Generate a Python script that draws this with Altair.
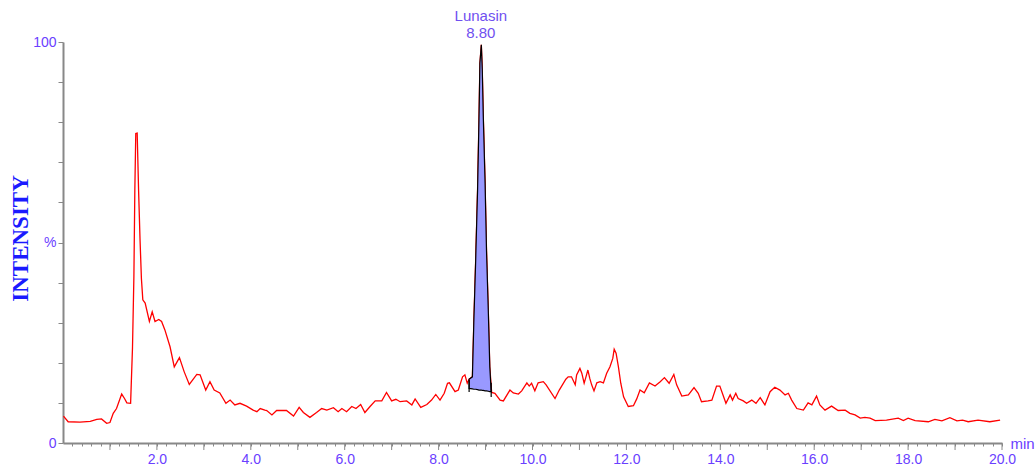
import altair as alt
import pandas as pd

# Chromatogram trace (retention time in min, relative intensity %)
time_min = [0.01, 0.11, 0.36, 0.58, 0.72, 0.82, 0.93, 1.00, 1.07, 1.14, 1.25, 1.31, 1.36, 1.44,
            1.48, 1.51, 1.53, 1.55, 1.58, 1.61, 1.64, 1.67, 1.70, 1.75, 1.84, 1.90, 1.96, 2.04,
            2.10, 2.17, 2.28, 2.37, 2.48, 2.58, 2.69, 2.85, 2.92, 3.04, 3.13, 3.22, 3.34, 3.47,
            3.56, 3.66, 3.77, 3.91, 4.05, 4.13, 4.20, 4.30, 4.34, 4.45, 4.55, 4.76, 4.91, 5.03,
            5.12, 5.26, 5.40, 5.51, 5.62, 5.76, 5.86, 5.94, 6.04, 6.15, 6.24, 6.34, 6.43, 6.54,
            6.65, 6.79, 6.89, 7.00, 7.09, 7.18, 7.32, 7.43, 7.50, 7.62, 7.75, 7.85, 7.94, 8.03,
            8.12, 8.19, 8.23, 8.35, 8.42, 8.51, 8.56, 8.61, 8.65, 8.72, 8.75, 8.79, 8.83, 8.86,
            8.88, 8.91, 8.93, 8.95, 8.99, 9.02, 9.06, 9.09, 9.13, 9.20, 9.31, 9.38, 9.52, 9.59,
            9.70, 9.77, 9.88, 9.93, 9.98, 10.05, 10.12, 10.23, 10.29, 10.48, 10.57, 10.71, 10.76,
            10.83, 10.91, 10.94, 11.01, 11.05, 11.10, 11.13, 11.18, 11.22, 11.26, 11.31, 11.37,
            11.44, 11.51, 11.58, 11.65, 11.71, 11.74, 11.78, 11.83, 11.88, 11.94, 12.04, 12.15,
            12.22, 12.29, 12.38, 12.49, 12.61, 12.72, 12.81, 12.91, 13.01, 13.07, 13.18, 13.32,
            13.44, 13.53, 13.60, 13.74, 13.82, 13.92, 13.99, 14.12, 14.21, 14.26, 14.33, 14.38,
            14.49, 14.56, 14.67, 14.76, 14.85, 14.95, 15.06, 15.16, 15.27, 15.38, 15.45, 15.52,
            15.63, 15.77, 15.87, 15.95, 16.05, 16.12, 16.23, 16.37, 16.51, 16.66, 16.76, 16.87,
            16.98, 17.08, 17.19, 17.30, 17.54, 17.79, 17.90, 18.00, 18.15, 18.43, 18.57, 18.72,
            18.89, 19.04, 19.16, 19.28, 19.49, 19.74, 19.96]
intensity = [6.7, 5.3, 5.2, 5.4, 5.9, 6.0, 4.9, 5.1, 7.4, 8.6, 12.2, 11.1, 10.0, 9.9,
             23.7, 41.5, 63.0, 77.2, 77.3, 63.0, 51.0, 41.0, 35.7, 34.9, 30.3, 32.7, 30.3, 30.8,
             30.3, 28.2, 24.0, 19.0, 21.3, 17.8, 14.6, 17.1, 17.0, 13.2, 15.3, 13.2, 12.5, 9.9,
             10.7, 9.5, 9.9, 9.2, 8.2, 7.8, 8.6, 8.2, 8.1, 7.0, 8.1, 8.1, 6.7, 8.9,
             7.6, 6.4, 7.6, 8.6, 8.2, 8.8, 7.8, 8.6, 7.8, 9.1, 8.6, 9.6, 7.6, 9.1,
             10.5, 10.5, 12.6, 10.5, 10.9, 10.3, 10.5, 9.5, 11.0, 8.9, 9.6, 10.7, 12.1, 10.7,
             12.4, 14.9, 15.0, 12.8, 13.2, 16.5, 17.0, 14.9, 15.9, 16.5, 29.9, 45.6, 63.0, 80.5,
             94.7, 99.3, 93.0, 82.2, 64.8, 48.1, 32.3, 19.0, 12.6, 12.4, 10.7, 10.5, 13.2, 12.5,
             12.2, 13.0, 15.0, 14.2, 14.9, 13.0, 15.0, 15.3, 14.5, 11.1, 13.2, 15.9, 16.5,
             16.5, 14.5, 17.0, 18.6, 17.4, 14.9, 16.1, 18.2, 16.1, 14.5, 13.0, 15.0,
             15.3, 15.0, 17.4, 19.0, 21.1, 23.4, 22.4, 19.0, 14.9, 11.5, 9.1, 9.3,
             11.0, 13.2, 12.5, 15.0, 14.2, 15.3, 16.3, 14.9, 17.1, 14.5, 11.7, 12.0,
             13.8, 12.4, 10.3, 10.5, 10.7, 14.2, 14.2, 9.9, 12.0, 10.7, 12.4, 11.1,
             10.5, 9.9, 10.7, 9.9, 11.3, 9.5, 12.8, 13.9, 13.2, 12.0, 12.4, 10.7,
             8.6, 8.2, 10.0, 9.5, 11.7, 9.5, 8.2, 9.2, 8.1, 8.2, 7.4, 7.0,
             6.2, 6.4, 6.2, 5.6, 5.7, 6.2, 5.6, 6.2, 5.6, 5.3, 5.9, 5.5,
             6.3, 5.5, 5.7, 5.3, 5.7, 5.3, 5.7]

# Integrated peak (Lunasin)
peak_time = [8.65, 8.72, 8.75, 8.79, 8.83, 8.86, 8.88, 8.91, 8.93, 8.95, 8.99, 9.02, 9.06, 9.09, 9.12]
peak_top = [15.9, 16.5, 29.9, 45.6, 63.0, 80.5, 94.7, 99.3, 93.0, 82.2, 64.8, 48.1, 32.3, 19.0, 12.8]
peak_base = [13.6, 13.5, 13.4, 13.4, 13.3, 13.2, 13.2, 13.2, 13.1, 13.1, 13.0, 13.0, 12.9, 12.8, 12.8]

# Integration start / end markers
marker_time = [8.65, 9.12]
marker_lo = [12.7, 11.5]
marker_hi = [15.7, 15.0]

# Peak annotation
ann_time = [8.90]
ann_name = ["Lunasin"]
ann_rt = ["8.80"]

y_tick_values = [0, 10, 20, 30, 40, 50, 60, 70, 80, 90, 100]
x_minor_ticks = [round(0.2 * i, 1) for i in range(1, 101)]
x_major_ticks = [float(i) for i in range(1, 21)]

LABEL_COLOR = "#6a40ff"
AXIS_COLOR = "#888888"
FONT = "Liberation Sans"

trace_df = pd.DataFrame({"t": time_min, "v": intensity})
peak_df = pd.DataFrame({"t": peak_time, "top": peak_top, "base": peak_base})
marker_df = pd.DataFrame({"t": marker_time, "lo": marker_lo, "hi": marker_hi})
ann_df = pd.DataFrame({"t": ann_time, "name": ann_name, "rt": ann_rt, "v": [100]})
major_df = pd.DataFrame({"t": x_major_ticks})

x_scale = alt.Scale(domain=[0, 20], nice=False, zero=False)
y_scale = alt.Scale(domain=[0, 100], nice=False)

x_axis = alt.Axis(
    values=x_minor_ticks, tickCount=500,
    labelExpr="(abs(datum.value/2 - round(datum.value/2)) < 0.001 && datum.value > 0) ? format(datum.value, '.1f') : ''",
    tickSize=3, tickColor=AXIS_COLOR, tickWidth=1,
    domainColor=AXIS_COLOR, domainWidth=2,
    labelColor=LABEL_COLOR, labelFont=FONT, labelFontSize=14, labelPadding=6,
    labelOverlap=False, labelFlush=False, grid=False,
    title="min", titleColor=LABEL_COLOR, titleFont=FONT, titleFontSize=15,
    titleFontWeight="normal", titleAnchor="start", titleAlign="left",
    titleBaseline="middle", titleX=947, titleY=0, titlePadding=0,
)
y_axis = alt.Axis(
    values=y_tick_values, tickCount=100,
    labelExpr="datum.value == 50 ? '%' : ((datum.value == 0 || datum.value == 100) ? datum.label : '')",
    tickSize=5, tickColor=AXIS_COLOR, tickWidth=1,
    domainColor=AXIS_COLOR, domainWidth=2,
    labelColor=LABEL_COLOR, labelFont=FONT, labelFontSize=14, labelPadding=2,
    labelOverlap=False, labelFlush=False, grid=False,
    title="INTENSITY", titleColor="#1a1aff", titleFont="Liberation Serif",
    titleFontSize=23, titleFontWeight="bold", titleAngle=-90,
    titleAlign="center", titleBaseline="middle", titleX=-43, titleY=196,
)

line = alt.Chart(trace_df).mark_line(color="#ff0000", strokeWidth=1.3, interpolate="linear").encode(
    x=alt.X("t:Q", scale=x_scale, axis=x_axis),
    y=alt.Y("v:Q", scale=y_scale, axis=y_axis),
)

# longer major ticks at whole minutes, below the axis line
major = alt.Chart(major_df).mark_rule(color=AXIS_COLOR, strokeWidth=1).encode(
    x="t:Q", y=alt.datum(0), y2=alt.datum(-1.75)
)

area = alt.Chart(peak_df).mark_area(color="#9999ff", opacity=1, stroke="#000000", strokeWidth=1.2).encode(
    x="t:Q", y="top:Q", y2="base:Q"
)

markers = alt.Chart(marker_df).mark_rule(color="#000000", strokeWidth=1.2).encode(
    x="t:Q", y="lo:Q", y2="hi:Q"
)

name_text = alt.Chart(ann_df).mark_text(
    color="#7050f0", font=FONT, fontSize=15, baseline="bottom", align="center", dy=-18
).encode(x="t:Q", y="v:Q", text="name:N")

rt_text = alt.Chart(ann_df).mark_text(
    color="#7050f0", font=FONT, fontSize=15, baseline="bottom", align="center", dy=-1
).encode(x="t:Q", y="v:Q", text="rt:N")

chart = alt.layer(line, major, area, markers, name_text, rt_text).properties(
    width=939, height=401,
    padding={"left": 63, "top": 42, "right": 34, "bottom": 27},
    autosize=alt.AutoSizeParams(type="none"),
    background="#ffffff",
).configure_view(stroke=None)

chart.save("out.html", embed_options={"renderer": "svg", "actions": False})
